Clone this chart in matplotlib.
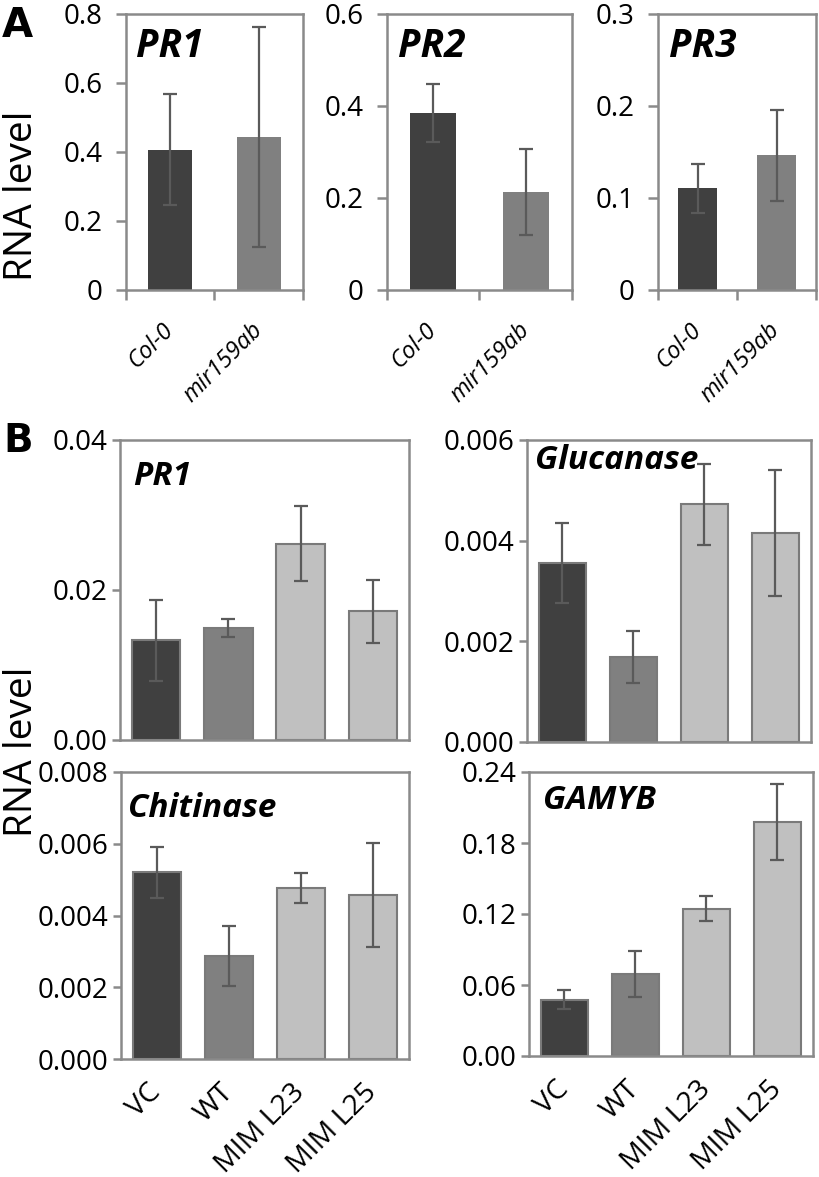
import numpy as np
import matplotlib.pyplot as plt

plt.rcParams['font.family'] = ['Open Sans', 'DejaVu Sans']

# panel A data (Col-0 vs mir159ab)
genotypes = ['Col-0', 'mir159ab']
pr1_a = [0.406, 0.443]
pr1_a_err = [0.162, 0.320]
pr2_a = [0.384, 0.213]
pr2_a_err = [0.063, 0.094]
pr3_a = [0.110, 0.146]
pr3_a_err = [0.027, 0.050]

# panel B data (MIM159 lines)
lines = ['VC', 'WT', 'MIM L23', 'MIM L25']
pr1_b = [0.0133, 0.0149, 0.0262, 0.0172]
pr1_b_err = [0.0054, 0.0012, 0.0050, 0.0042]
glu_b = [0.00356, 0.00169, 0.00472, 0.00416]
glu_b_err = [0.00079, 0.00051, 0.00081, 0.00125]
chi_b = [0.0052, 0.00288, 0.00477, 0.00458]
chi_b_err = [0.00070, 0.00084, 0.00042, 0.00145]
gamyb_b = [0.0477, 0.0693, 0.1246, 0.1978]
gamyb_b_err = [0.0080, 0.0197, 0.0107, 0.0323]

# y tick labels as printed
pr1_a_ticks = ['0', '0.2', '0.4', '0.6', '0.8']
pr2_a_ticks = ['0', '0.2', '0.4', '0.6']
pr3_a_ticks = ['0', '0.1', '0.2', '0.3']
pr1_b_ticks = ['0.00', '0.02', '0.04']
glu_b_ticks = ['0.000', '0.002', '0.004', '0.006']
chi_b_ticks = ['0.000', '0.002', '0.004', '0.006', '0.008']
gamyb_b_ticks = ['0.00', '0.06', '0.12', '0.18', '0.24']

W, H = 820, 1177
fig = plt.figure(figsize=(W / 100, H / 100), dpi=100)

frame = '#8a8a8a'
errc = '#5a5a5a'


def box(l, r, t, b):
    # pixel box -> figure fraction
    return fig.add_axes([l / W, 1 - b / H, (r - l) / W, (b - t) / H])


def style(ax, ticks, tsize, tlen, tpad):
    vals = [float(t) for t in ticks]
    ax.set_ylim(0, vals[-1])
    ax.set_yticks(vals)
    ax.set_yticklabels(ticks, fontsize=tsize)
    for s in ax.spines.values():
        s.set_color(frame)
        s.set_linewidth(1.8)
    ax.tick_params(axis='y', direction='out', length=tlen, width=1.8, color=frame, pad=tpad)


def panel_a(ax, vals, errs, ticks, name, tx):
    x = np.arange(len(genotypes))
    ax.bar(x, vals, width=0.5, color=['#404040', '#808080'])
    ax.errorbar(x, vals, yerr=errs, fmt='none', ecolor=errc, elinewidth=1.6,
                capsize=5, capthick=1.6)
    ax.set_xlim(-0.5, 1.5)
    style(ax, ticks, 20, 7, 10)
    ax.set_xticks(x)
    ax.set_xticklabels(genotypes, fontsize=17, style='italic', rotation=45,
                       ha='right', va='center', rotation_mode='anchor')
    ax.tick_params(axis='x', length=0, pad=27)
    ax.set_xticks([-0.5, 0.5, 1.5], minor=True)
    ax.tick_params(axis='x', which='minor', direction='out', length=7.5, width=1.8, color=frame)
    ax.text(tx, 0.844, name, transform=ax.transAxes, fontsize=28,
            fontweight='bold', style='italic', va='baseline', ha='left')


def panel_b(ax, vals, errs, ticks, name, tx, ty, labels=True):
    x = np.arange(len(lines))
    ax.bar(x, vals, width=0.67, color=['#404040', '#808080', '#c0c0c0', '#c0c0c0'],
           edgecolor='#7a7a7a', linewidth=1.5)
    ax.errorbar(x, vals, yerr=errs, fmt='none', ecolor=errc, elinewidth=1.6,
                capsize=5, capthick=1.6)
    ax.set_xlim(-0.5, 3.5)
    style(ax, ticks, 20, 6, 3)
    ax.set_xticks(x)
    if labels:
        ax.set_xticklabels(lines, fontsize=20.5, rotation=45,
                           ha='right', va='center', rotation_mode='anchor')
    else:
        ax.set_xticklabels([])
    ax.tick_params(axis='x', length=0, pad=21)
    ax.text(tx, ty, name, transform=ax.transAxes, fontsize=24,
            fontweight='bold', style='italic', va='baseline', ha='left')


# panel A
ax1 = box(126, 303, 14, 289.5)
panel_a(ax1, pr1_a, pr1_a_err, pr1_a_ticks, 'PR1', 0.056)
ax2 = box(387, 572, 14, 289.5)
panel_a(ax2, pr2_a, pr2_a_err, pr2_a_ticks, 'PR2', 0.06)
ax3 = box(658, 816, 14, 289.5)
panel_a(ax3, pr3_a, pr3_a_err, pr3_a_ticks, 'PR3', 0.07)

# panel B
bx1 = box(120, 409, 440, 740)
panel_b(bx1, pr1_b, pr1_b_err, pr1_b_ticks, 'PR1', 0.045, 0.85, labels=False)
bx2 = box(527, 811, 440, 742)
panel_b(bx2, glu_b, glu_b_err, glu_b_ticks, 'Glucanase', 0.028, 0.904, labels=False)
bx3 = box(121, 409, 772, 1059)
panel_b(bx3, chi_b, chi_b_err, chi_b_ticks, 'Chitinase', 0.024, 0.843)
bx4 = box(529, 813, 772, 1056)
panel_b(bx4, gamyb_b, gamyb_b_err, gamyb_b_ticks, 'GAMYB', 0.049, 0.87)

# panel letters and shared y labels
fig.text(2 / W, 1 - 37 / H, 'A', fontsize=29, fontweight='bold', family='DejaVu Sans',
         ha='left', va='baseline')
fig.text(3 / W, 1 - 452 / H, 'B', fontsize=28, fontweight='bold', family='DejaVu Sans',
         ha='left', va='baseline')
fig.text(22 / W, 1 - 196 / H, 'RNA level', fontsize=28, rotation=90, ha='center', va='center')
fig.text(22 / W, 1 - 752 / H, 'RNA level', fontsize=28, rotation=90, ha='center', va='center')

fig.savefig('out.png', dpi=100)
